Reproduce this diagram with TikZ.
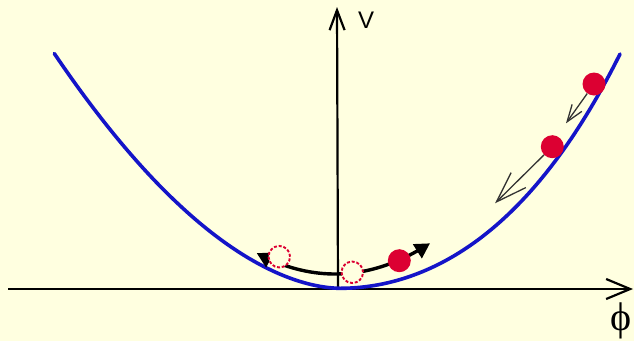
\documentclass[tikz,border=0pt]{standalone}
\usepackage{fontspec}
\newfontfamily\sansf{Liberation Sans}
\newfontfamily\serf{Liberation Serif}
\usetikzlibrary{arrows.meta}
\definecolor{bg}{RGB}{255,255,224}
\definecolor{curveblue}{RGB}{20,20,200}
\definecolor{ballred}{RGB}{220,0,50}
\begin{document}
\begin{tikzpicture}[x=1pt,y=-1pt,
  axis/.style={line width=2.2pt, black},
  ball/.style={circle, fill=ballred, minimum size=23pt, inner sep=0pt},
  ghost/.style={circle, draw=ballred, fill=bg, dash pattern=on 3pt off 1.8pt, line width=1.9pt, minimum size=21.5pt, inner sep=0pt},
  roll/.style={line width=1.3pt, black!80},
  lbl/.style={inner sep=0pt}]
\useasboundingbox (0,0) rectangle (634,341);
\fill[bg] (0,0) rectangle (634,341);
% axes
\coordinate (xs) at (8,289);
\coordinate (xe) at (633,289);
\coordinate (ys) at (338,289);
\coordinate (ye) at (337,7);
\draw[axis, -{Straight Barb[length=24pt,width=20pt]}] (xs) -- (xe);
\draw[axis, -{Straight Barb[length=20pt,width=15pt]}] (ys) -- (ye);
\node[lbl] (vl) at (366,20) {\sansf\fontsize{24pt}{24pt}\selectfont V};
\node[lbl] (pl) at (621,321) {\serf\fontsize{40pt}{40pt}\selectfont ϕ};
% potential curve
\draw[curveblue, line width=3.6pt, line cap=round, line join=round]
  plot[domain=54.3:340, samples=80] (\x,{288.3-35.49*pow((340-\x)/100,1.8)})
  -- plot[domain=340:620, samples=80] (\x,{288.3-24*((\x-340)/100)^2-0.75*((\x-340)/100)^4});
% oscillation arc
\draw[line width=3.4pt, {Triangle[length=15pt,width=16pt]}-{Triangle[length=15pt,width=16pt]}] plot[domain=256.7:430, samples=40] (\x,{274-0.0034*(\x-335)^2});
% ghost positions
\node[ghost] (g1) at (279.3,256.7) {};
\node[ghost] (g2) at (352.3,272.3) {};
% balls
\node[ball] (b1) at (594,84) {};
\node[ball] (b2) at (552.3,146.7) {};
\node[ball] (b3) at (399.3,260.7) {};
% rolling arrows
\coordinate (t1) at (566,123.3);
\coordinate (t2) at (495,203.3);
\draw[roll, -{Straight Barb[length=17pt,width=12pt]}] (b1) -- (t1);
\draw[roll, -{Straight Barb[length=31pt,width=21pt]}] (b2) -- (t2);
\end{tikzpicture}
\end{document}
